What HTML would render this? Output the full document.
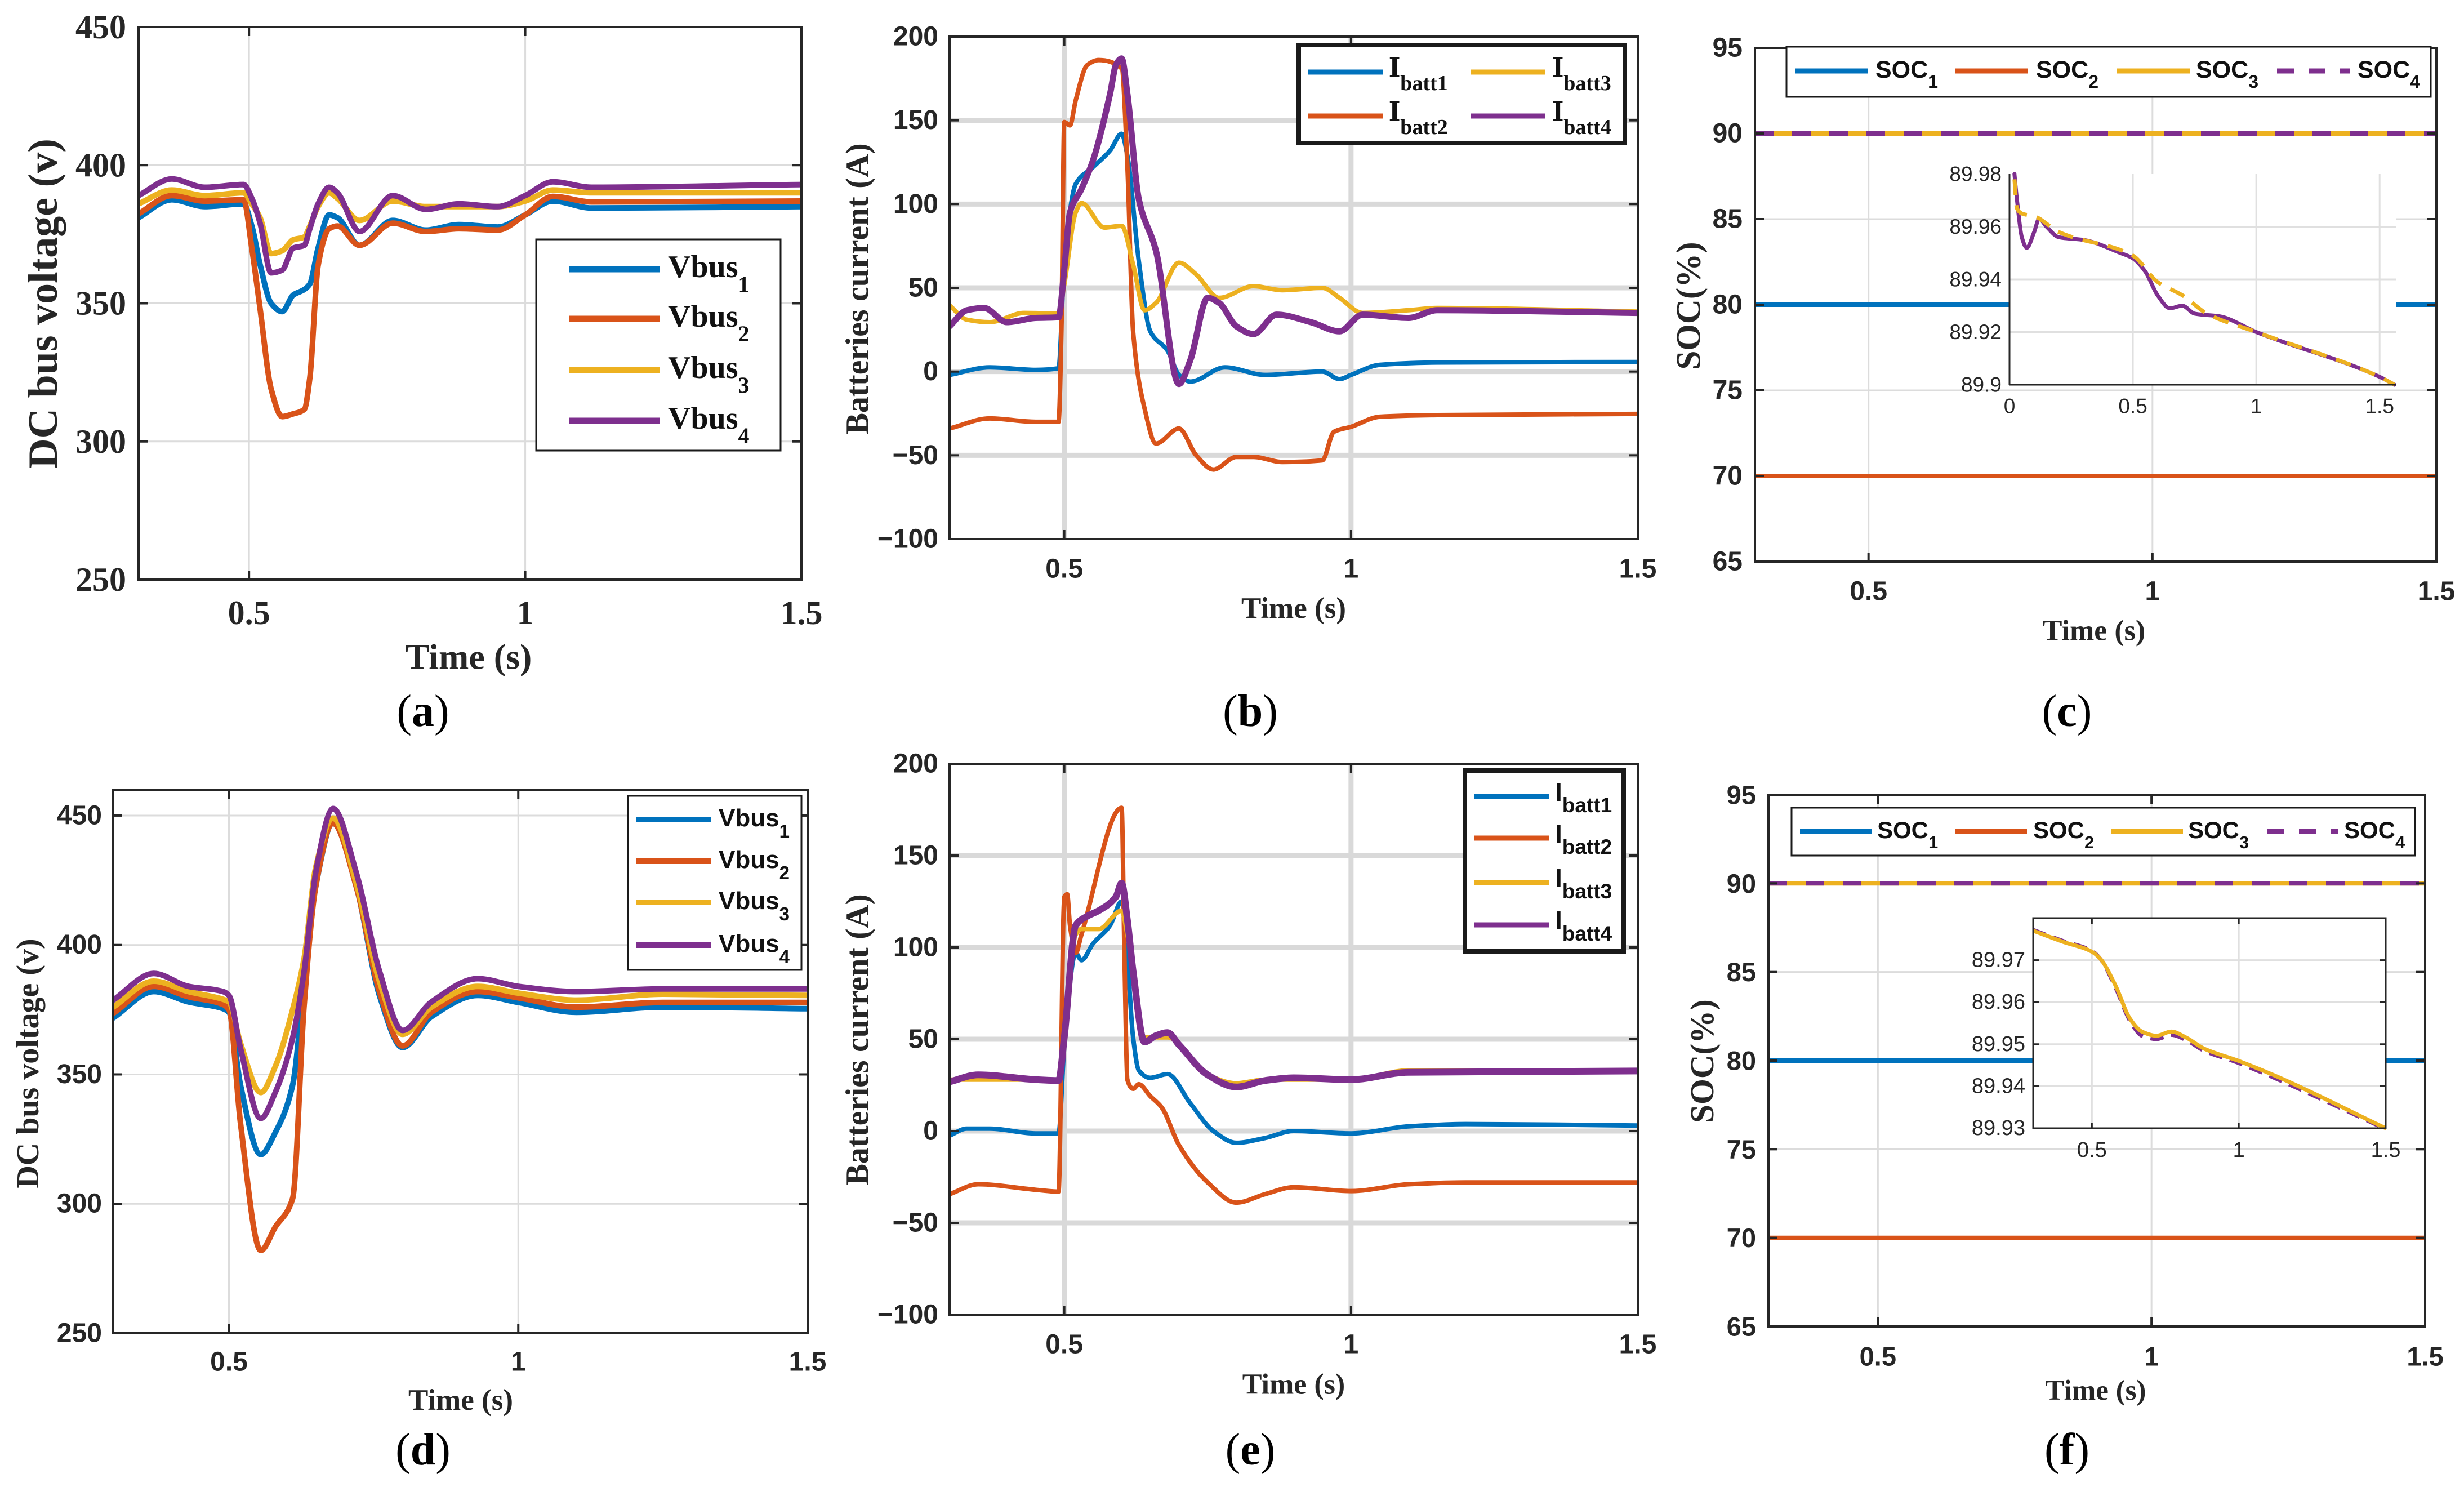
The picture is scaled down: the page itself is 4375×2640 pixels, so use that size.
<!DOCTYPE html>
<html><head><meta charset="utf-8"><title>DC microgrid simulation results</title>
<style>
html,body{margin:0;padding:0;background:#fff;}
svg{display:block;}
</style></head>
<body>
<svg id="fig" xmlns="http://www.w3.org/2000/svg" width="4375" height="2640" viewBox="0 0 4375 2640"></svg>
<script>
// ---------- Panel (a) data ----------
const aTime = [0.3,0.36,0.42,0.49,0.505,0.52,0.54,0.56,0.58,0.6,0.61,0.625,0.645,0.66,0.7,0.76,0.82,0.88,0.95,1.0,1.05,1.12,1.5];
const aVbus1 = [381,387.5,385,386,378,364,350,347,353,355,357,370,382,381,371,380,376.5,378.5,377.6,382,387,384.5,385];
const aVbus2 = [382.4,389,387,387.5,370,348,319,309,310,311.6,323,363.7,377,378,371,379,376,377,376.5,382,388.7,386.7,387];
const aVbus3 = [386,391,389,390,386,381,368,369,373,374,378,385,390,388,380,387,385,385,385,387,391,390,390];
const aVbus4 = [389,395,392,393,388,379,361,362,370,371,377,386,392,390,376,389,384,386,385,389,394,392,393];
const aXTicks = [0.5,1,1.5];
const aYTicks = [250,300,350,400,450];

// ---------- Panel (b) data ----------
const bT1 = [0.3,0.37,0.45,0.49,0.5,0.52,0.55,0.58,0.6,0.61,0.63,0.65,0.68,0.7,0.72,0.78,0.85,0.95,0.98,1.0,1.05,1.15,1.5];
const bI1 = [-2,2.5,1,2,64,112,122,132,142,129,66,24,12.5,-2,-6,2.5,-2,0,-4.5,-2,4,5.4,5.7];
const bT2 = [0.3,0.37,0.45,0.49,0.495,0.5,0.51,0.52,0.54,0.56,0.6,0.61,0.62,0.64,0.66,0.7,0.73,0.76,0.8,0.83,0.88,0.95,0.97,1.0,1.05,1.15,1.5];
const bI2 = [-34,-28,-30,-30,24,149,147,162,183,186,181,123,24,-22,-43,-34,-50,-58.5,-51,-51,-54,-53,-36,-33,-27,-26,-25.3];
const bT3 = [0.3,0.33,0.37,0.43,0.49,0.5,0.52,0.53,0.57,0.6,0.62,0.64,0.66,0.7,0.73,0.77,0.83,0.88,0.95,0.98,1.02,1.1,1.15,1.5];
const bI3 = [39.5,31,29.5,35,34.7,52,95,100.6,86,87,64,36.6,41,65,58,44,51,48.6,50,44,35,36.6,38,35.8];
const bT4 = [0.3,0.33,0.36,0.4,0.45,0.49,0.5,0.51,0.53,0.55,0.58,0.59,0.6,0.61,0.63,0.66,0.7,0.72,0.75,0.77,0.8,0.83,0.87,0.93,0.98,1.02,1.1,1.15,1.5];
const bI4 = [27,36.6,38,29.5,32,32.4,61,95,109,126,166,183,187,166,103,72,-7.4,7,44,41,27,22.4,34,29.5,24,34,32,36.6,35];
const bXTicks = [0.5,1,1.5];
const bYTicks = [-100,-50,0,50,100,150,200];

// ---------- Panel (c) data ----------
const cTime = [0.3,1.5];
const cSoc1 = [80,80];
const cSoc2 = [70,70];
const cSoc3 = [90,90];
const cSoc4 = [90,90];
const cXTicks = [0.5,1,1.5];
const cYTicks = [65,70,75,80,85,90,95];
const cInT4 = [0.02,0.03,0.05,0.07,0.1,0.12,0.15,0.2,0.3,0.45,0.5,0.55,0.6,0.65,0.7,0.75,0.85,1.0,1.5,1.56];
const cInS4 = [89.98,89.9705,89.956,89.952,89.958,89.963,89.96,89.956,89.955,89.950,89.948,89.943,89.934,89.929,89.930,89.927,89.926,89.920,89.903,89.9];
const cInT3 = [0.02,0.03,0.05,0.1,0.2,0.5,0.6,0.7,0.8,1.0,1.5,1.56];
const cInS3 = [89.978,89.967,89.965,89.964,89.958,89.949,89.939,89.934,89.927,89.920,89.903,89.9];
const cInXTicks = [0,0.5,1,1.5];
const cInYTicks = [89.9,89.92,89.94,89.96,89.98];

// ---------- Panel (d) data ----------
const dTime = [0.3,0.37,0.43,0.49,0.5,0.52,0.555,0.58,0.61,0.63,0.65,0.68,0.72,0.76,0.8,0.85,0.93,1.0,1.1,1.25,1.5];
const dVbus1 = [371.8,382,378,375.4,374,345.8,319,327.5,345.8,386,422.6,447,422.6,380.5,360.4,372.3,380.5,377.8,374,376,375.4];
const dVbus2 = [373.6,384,380,377,375,331,282,291,302,377,422.6,447,422.6,382,361,374,382,379.6,376,377.8,377.8];
const dVbus3 = [376,386,382,379,378,362,343,353,375,395,430,449,424,386,365.5,376,384,381.4,378.7,381,380.5];
const dVbus4 = [378.7,389,384,382,380.5,360,333,343,364,390,428,452.7,428,390,367,378,387,384,382,383,383];
const dXTicks = [0.5,1,1.5];
const dYTicks = [250,300,350,400,450];

// ---------- Panel (e) data ----------
const eT1 = [0.3,0.33,0.37,0.45,0.49,0.5,0.52,0.53,0.55,0.58,0.6,0.61,0.62,0.63,0.65,0.68,0.72,0.76,0.8,0.85,0.9,1.0,1.1,1.2,1.5];
const eI1 = [-2.5,1.3,1.3,-1.3,-1.3,46,97,93,102,112,125,94,51,33,29,31,15,0,-6.4,-3.8,0,-1.3,2.5,3.8,3];
const eT2 = [0.3,0.35,0.45,0.49,0.5,0.505,0.51,0.52,0.53,0.6,0.605,0.61,0.62,0.63,0.65,0.67,0.7,0.75,0.8,0.85,0.9,1.0,1.1,1.2,1.5];
const eI2 = [-34.4,-29,-32,-33,127.5,129,112,97,107,176,94,28,23,25.5,19,12.8,-7.7,-28,-39,-34.4,-30.6,-32.7,-29,-28,-28];
const eT3 = [0.3,0.49,0.5,0.52,0.53,0.56,0.6,0.61,0.64,0.68,0.75,0.8,0.85,1.0,1.1,1.5];
const eI3 = [28,28,51,107,110,110,120,107,51,51,30.6,26,28,28,33,33];
const eT4 = [0.3,0.35,0.45,0.49,0.5,0.52,0.54,0.56,0.59,0.6,0.61,0.62,0.64,0.66,0.68,0.7,0.75,0.8,0.85,0.9,1.0,1.1,1.5];
const eI4 = [26.8,30.6,28,27.5,51,112,117,120,127.5,135,115,87,48.5,52,53.6,47,30.6,24,27.5,29,28,32,32.7];
const eXTicks = [0.5,1,1.5];
const eYTicks = [-100,-50,0,50,100,150,200];

// ---------- Panel (f) data ----------
const fTime = [0.3,1.5];
const fSoc1 = [80,80];
const fSoc2 = [70,70];
const fSoc3 = [90,90];
const fSoc4 = [90,90];
const fXTicks = [0.5,1,1.5];
const fYTicks = [65,70,75,80,85,90,95];
const fInT3 = [0.3,0.4,0.5,0.53,0.58,0.63,0.67,0.72,0.77,0.82,0.88,1.0,1.12,1.5];
const fInS3 = [89.977,89.9744,89.972,89.9702,89.964,89.956,89.953,89.952,89.953,89.9516,89.949,89.946,89.9426,89.930];
const fInT4 = [0.3,0.4,0.5,0.53,0.58,0.63,0.67,0.72,0.77,0.82,0.88,1.0,1.12,1.5];
const fInS4 = [89.9772,89.9746,89.9722,89.9702,89.9635,89.9555,89.952,89.9512,89.9522,89.951,89.9485,89.9455,89.942,89.9298];
const fInXTicks = [0.5,1,1.5];
const fInYTicks = [89.93,89.94,89.95,89.96,89.97];

// ---------- rendering ----------
const NS = 'http://www.w3.org/2000/svg';
const svg = document.getElementById('fig');
const BLUE='#0072BD', ORANGE='#D95319', YELLOW='#EDB120', PURPLE='#7E2F8E', INK='#262626';
const SERIF='"Liberation Serif", serif', SANS='"Liberation Sans", sans-serif';

function mk(tag, attrs, parent){
  const e=document.createElementNS(NS,tag);
  for(const k in attrs) e.setAttribute(k,attrs[k]);
  (parent||svg).appendChild(e);
  return e;
}
function fmt(v){ const s=String(v); return v<0 ? '\u2212'+s.slice(1) : s; }
function scaleX(ax,t){ return ax.x0+(t-ax.xmin)/(ax.xmax-ax.xmin)*(ax.x1-ax.x0); }
function scaleY(ax,v){ return ax.y1-(v-ax.ymin)/(ax.ymax-ax.ymin)*(ax.y1-ax.y0); }

// monotone cubic (Fritsch-Carlson) path through pixel points
function monoPath(xs,ys){
  const n=xs.length;
  if(n<3){ let d=''; for(let i=0;i<n;i++) d+=(i?'L':'M')+xs[i].toFixed(1)+','+ys[i].toFixed(1); return d; }
  const dx=[],s=[];
  for(let i=0;i<n-1;i++){ dx.push(xs[i+1]-xs[i]); s.push((ys[i+1]-ys[i])/dx[i]); }
  const m=new Array(n);
  m[0]=s[0]; m[n-1]=s[n-2];
  for(let i=1;i<n-1;i++){
    if(s[i-1]*s[i]<=0) m[i]=0;
    else { const w1=2*dx[i]+dx[i-1], w2=dx[i]+2*dx[i-1]; m[i]=(w1+w2)/(w1/s[i-1]+w2/s[i]); }
  }
  let d='M'+xs[0].toFixed(1)+','+ys[0].toFixed(1);
  for(let i=0;i<n-1;i++){
    const h=dx[i]/3;
    d+='C'+(xs[i]+h).toFixed(1)+','+(ys[i]+m[i]*h).toFixed(1)+' '+(xs[i+1]-h).toFixed(1)+','+(ys[i+1]-m[i+1]*h).toFixed(1)+' '+xs[i+1].toFixed(1)+','+ys[i+1].toFixed(1);
  }
  return d;
}

let clipId=0;
function makeAxes(ax){
  const g=mk('g',{});
  
  
  if(ax.bg){
    const bg=mk('rect',{x:ax.x0,y:ax.y0,width:ax.x1-ax.x0,height:ax.y1-ax.y0,fill:'#fff'},g);
    
    
  }
  const grid=mk('g',{stroke:ax.gridColor,'stroke-width':ax.gridW},g);
  
  
  ax.xticks.forEach(t=>{ const x=scaleX(ax,t); if(x>ax.x0+2&&x<ax.x1-2) mk('line',{x1:x,x2:x,y1:ax.y0,y2:ax.y1},grid); });
  ax.yticks.forEach(v=>{ const y=scaleY(ax,v); if(y>ax.y0+2&&y<ax.y1-2) mk('line',{x1:ax.x0,x2:ax.x1,y1:y,y2:y},grid); });
  const id='clip'+(clipId++);
  const cp=mk('clipPath',{id:id},g);
  mk('rect',{x:ax.x0,y:ax.y0-6,width:ax.x1-ax.x0,height:ax.y1-ax.y0+12},cp);
  ax.plot=mk('g',{'clip-path':'url(#'+id+')'},g);
  ax.g=g;
  return ax;
}
function finishAxes(ax){
  const g=ax.g;
  const frame=mk('g',{stroke:INK,'stroke-width':ax.axisW,fill:'none'},g);
  
  
  if(ax.fullBox) mk('rect',{x:ax.x0,y:ax.y0,width:ax.x1-ax.x0,height:ax.y1-ax.y0},frame);
  else { mk('line',{x1:ax.x0,x2:ax.x0,y1:ax.y0,y2:ax.y1},frame); mk('line',{x1:ax.x0,x2:ax.x1,y1:ax.y1,y2:ax.y1},frame); }
  const tl=ax.tickLen;
  if(tl>0){
    ax.xticks.forEach(t=>{ const x=scaleX(ax,t); mk('line',{x1:x,x2:x,y1:ax.y1,y2:ax.y1-tl},frame); if(ax.fullBox) mk('line',{x1:x,x2:x,y1:ax.y0,y2:ax.y0+tl},frame); });
    ax.yticks.forEach(v=>{ const y=scaleY(ax,v); mk('line',{x1:ax.x0,x2:ax.x0+tl,y1:y,y2:y},frame); if(ax.fullBox) mk('line',{x1:ax.x1,x2:ax.x1-tl,y1:y,y2:y},frame); });
  }
  const xl=mk('g',{fill:INK,'font-family':ax.tickFam,'font-size':ax.tickSize,'font-weight':ax.tickWeight,'text-anchor':'middle'},g);
  
  
  ax.xticks.forEach(t=>{ const e=mk('text',{x:scaleX(ax,t),y:ax.xLabY,'dominant-baseline':'central'},xl); e.textContent=fmt(t); });
  const yl=mk('g',{fill:INK,'font-family':ax.tickFam,'font-size':ax.tickSize,'font-weight':ax.tickWeight,'text-anchor':'end'},g);
  
  
  ax.yticks.forEach(v=>{ const e=mk('text',{x:ax.x0-ax.yLabGap,y:scaleY(ax,v),'dominant-baseline':'central'},yl); e.textContent=fmt(v); });
}
function series(ax,ts,vs,color,w,name,dash){
  const xs=ts.map(t=>scaleX(ax,t)), ys=vs.map(v=>scaleY(ax,v));
  const p=mk('path',{d:monoPath(xs,ys),fill:'none',stroke:color,'stroke-width':w,'stroke-linejoin':'round','stroke-linecap':dash?'butt':'round'},ax.plot);
  if(dash) p.setAttribute('stroke-dasharray',dash);
  
  
  return p;
}
function textLabel(x,y,str,size,fam,weight,rot,name){
  const t=mk('text',{x:x,y:y,fill:INK,'font-family':fam,'font-size':size,'font-weight':weight,'text-anchor':'middle','dominant-baseline':'central'});
  if(rot) t.setAttribute('transform','rotate(-90 '+x+' '+y+')');
  t.textContent=str;
  
  
  return t;
}
function subLabel(x,y,letter,name){
  const t=mk('text',{x:x,y:y,fill:'#000','font-family':SERIF,'font-size':80,'text-anchor':'middle','dominant-baseline':'central'});
  t.appendChild(document.createTextNode('('));
  const b=mk('tspan',{'font-weight':'bold'},t);
  b.textContent=letter;
  t.appendChild(document.createTextNode(')'));
  
  
}
function legend(name,box,bw,entries,fam,size,subSize,subDy,lineW){
  const g=mk('g',{});
  
  
  mk('rect',{x:box[0],y:box[1],width:box[2]-box[0],height:box[3]-box[1],fill:'#fff',stroke:'#1a1a1a','stroke-width':bw},g);
  entries.forEach(en=>{
    const eg=mk('g',{},g);
    
    
    const ln=mk('line',{x1:en.lx1,x2:en.lx2,y1:en.y,y2:en.y,stroke:en.color,'stroke-width':lineW},eg);
    if(en.dash) ln.setAttribute('stroke-dasharray',en.dash);
    const t=mk('text',{x:en.tx,y:en.y+en.by,fill:'#111','font-family':fam,'font-size':size,'font-weight':'bold'},eg);
    t.appendChild(document.createTextNode(en.main));
    const s=mk('tspan',{'font-size':subSize,dy:subDy},t);
    s.textContent=en.sub;
  });
}

// ===== Panel (a) =====
const axA=makeAxes({name:'panel-a-axes',x0:246,x1:1423,y0:48,y1:1029,xmin:0.3,xmax:1.5,ymin:250,ymax:450,xticks:aXTicks,yticks:aYTicks,gridColor:'#dcdcdc',gridW:3,axisW:4,tickLen:16,fullBox:true,tickFam:SERIF,tickSize:60,tickWeight:'bold',xLabY:1088,yLabGap:22});
series(axA,aTime,aVbus1,BLUE,10,'vbus1-line-a');
series(axA,aTime,aVbus2,ORANGE,10,'vbus2-line-a');
series(axA,aTime,aVbus3,YELLOW,10,'vbus3-line-a');
series(axA,aTime,aVbus4,PURPLE,10,'vbus4-line-a');
finishAxes(axA);
legend('legend-a',[952,425,1386,800],3,[
 {main:'Vbus',sub:'1',color:BLUE,lx1:1010,lx2:1172,y:478,tx:1186,by:14},
 {main:'Vbus',sub:'2',color:ORANGE,lx1:1010,lx2:1172,y:566,tx:1186,by:14},
 {main:'Vbus',sub:'3',color:YELLOW,lx1:1010,lx2:1172,y:657,tx:1186,by:14},
 {main:'Vbus',sub:'4',color:PURPLE,lx1:1010,lx2:1172,y:747,tx:1186,by:14}],SERIF,56,40,26,11);
textLabel(77,539,'DC bus voltage (v)',74,SERIF,'bold',true,'y-axis-title-a');
textLabel(832,1166,'Time (s)',64,SERIF,'bold',false,'x-axis-title-a');
subLabel(751,1263,'a','subplot-label-a');

// ===== Panel (b) =====
const axB=makeAxes({name:'panel-b-axes',x0:1686,x1:2908,y0:65,y1:957,xmin:0.3,xmax:1.5,ymin:-100,ymax:200,xticks:bXTicks,yticks:bYTicks,gridColor:'#d9d9d9',gridW:9,axisW:4,tickLen:16,fullBox:true,tickFam:SANS,tickSize:48,tickWeight:'bold',xLabY:1010,yLabGap:20});
series(axB,bT1,bI1,BLUE,8,'ibatt1-line-b');
series(axB,bT2,bI2,ORANGE,8,'ibatt2-line-b');
series(axB,bT3,bI3,YELLOW,8,'ibatt3-line-b');
series(axB,bT4,bI4,PURPLE,11,'ibatt4-line-b');
finishAxes(axB);
legend('legend-b',[2306,80,2885,254],8,[
 {main:'I',sub:'batt1',color:BLUE,lx1:2323,lx2:2455,y:128,tx:2466,by:8},
 {main:'I',sub:'batt2',color:ORANGE,lx1:2323,lx2:2455,y:206,tx:2466,by:8},
 {main:'I',sub:'batt3',color:YELLOW,lx1:2611,lx2:2744,y:128,tx:2756,by:8},
 {main:'I',sub:'batt4',color:PURPLE,lx1:2611,lx2:2744,y:206,tx:2756,by:8}],SERIF,52,38,24,9);
textLabel(1522,513,'Batteries current (A)',58,SERIF,'bold',true,'y-axis-title-b');
textLabel(2297,1080,'Time (s)',53,SERIF,'bold',false,'x-axis-title-b');
subLabel(2220,1263,'b','subplot-label-b');

// ===== Panel (c) =====
const axC=makeAxes({name:'panel-c-axes',x0:3116,x1:4326,y0:85,y1:997,xmin:0.3,xmax:1.5,ymin:65,ymax:95,xticks:cXTicks,yticks:cYTicks,gridColor:'#dcdcdc',gridW:3,axisW:4,tickLen:16,fullBox:true,tickFam:SANS,tickSize:48,tickWeight:'bold',xLabY:1050,yLabGap:22});
series(axC,cTime,cSoc1,BLUE,8,'soc1-line-c');
series(axC,cTime,cSoc2,ORANGE,8,'soc2-line-c');
series(axC,cTime,cSoc3,YELLOW,8,'soc3-line-c');
series(axC,cTime,cSoc4,PURPLE,8,'soc4-line-c','33 33');
finishAxes(axC);
const inC=makeAxes({name:'inset-c-axes',bg:true,x0:3568,x1:4255,y0:309,y1:683,xmin:0,xmax:1.568,ymin:89.9,ymax:89.98,xticks:cInXTicks,yticks:cInYTicks,gridColor:'#e0e0e0',gridW:3,axisW:3,tickLen:0,fullBox:false,tickFam:SANS,tickSize:37,tickWeight:'normal',xLabY:721,yLabGap:14});
series(inC,cInT4,cInS4,PURPLE,7,'soc4-inset-line-c');
series(inC,cInT3,cInS3,YELLOW,7,'soc3-inset-line-c','28 18');
finishAxes(inC);
legend('legend-c',[3172,83,4316,172],3,[
 {main:'SOC',sub:'1',color:BLUE,lx1:3187,lx2:3316,y:126,tx:3330,by:12},
 {main:'SOC',sub:'2',color:ORANGE,lx1:3471,lx2:3601,y:126,tx:3615,by:12},
 {main:'SOC',sub:'3',color:YELLOW,lx1:3758,lx2:3888,y:126,tx:3899,by:12},
 {main:'SOC',sub:'4',color:PURPLE,lx1:4043,lx2:4172,y:126,tx:4186,by:12,dash:'30 26'}],SANS,43,32,18,9);
textLabel(2999,543,'SOC(%)',61,SERIF,'bold',true,'y-axis-title-c');
textLabel(3718,1120,'Time (s)',52,SERIF,'bold',false,'x-axis-title-c');
subLabel(3670,1263,'c','subplot-label-c');

// ===== Panel (d) =====
const axD=makeAxes({name:'panel-d-axes',x0:201,x1:1434,y0:1402,y1:2367,xmin:0.3,xmax:1.5,ymin:250,ymax:460,xticks:dXTicks,yticks:dYTicks,gridColor:'#dcdcdc',gridW:3,axisW:4,tickLen:16,fullBox:true,tickFam:SANS,tickSize:48,tickWeight:'bold',xLabY:2418,yLabGap:20});
series(axD,dTime,dVbus1,BLUE,10,'vbus1-line-d');
series(axD,dTime,dVbus2,ORANGE,10,'vbus2-line-d');
series(axD,dTime,dVbus3,YELLOW,10,'vbus3-line-d');
series(axD,dTime,dVbus4,PURPLE,10,'vbus4-line-d');
finishAxes(axD);
legend('legend-d',[1115,1413,1423,1722],3,[
 {main:'Vbus',sub:'1',color:BLUE,lx1:1129,lx2:1263,y:1455,tx:1276,by:12},
 {main:'Vbus',sub:'2',color:ORANGE,lx1:1129,lx2:1263,y:1529,tx:1276,by:12},
 {main:'Vbus',sub:'3',color:YELLOW,lx1:1129,lx2:1263,y:1602,tx:1276,by:12},
 {main:'Vbus',sub:'4',color:PURPLE,lx1:1129,lx2:1263,y:1678,tx:1276,by:12}],SANS,44,33,20,10);
textLabel(50,1888,'DC bus voltage (v)',56,SERIF,'bold',true,'y-axis-title-d');
textLabel(818,2486,'Time (s)',53,SERIF,'bold',false,'x-axis-title-d');
subLabel(751,2574,'d','subplot-label-d');

// ===== Panel (e) =====
const axE=makeAxes({name:'panel-e-axes',x0:1686,x1:2908,y0:1356,y1:2334,xmin:0.3,xmax:1.5,ymin:-100,ymax:200,xticks:eXTicks,yticks:eYTicks,gridColor:'#d9d9d9',gridW:9,axisW:4,tickLen:16,fullBox:true,tickFam:SANS,tickSize:48,tickWeight:'bold',xLabY:2387,yLabGap:20});
series(axE,eT1,eI1,BLUE,8,'ibatt1-line-e');
series(axE,eT2,eI2,ORANGE,8,'ibatt2-line-e');
series(axE,eT3,eI3,YELLOW,8,'ibatt3-line-e');
series(axE,eT4,eI4,PURPLE,12,'ibatt4-line-e');
finishAxes(axE);
legend('legend-e',[2601,1368,2883,1689],8,[
 {main:'I',sub:'batt1',color:BLUE,lx1:2617,lx2:2750,y:1414,tx:2761,by:8},
 {main:'I',sub:'batt2',color:ORANGE,lx1:2617,lx2:2750,y:1488,tx:2761,by:8},
 {main:'I',sub:'batt3',color:YELLOW,lx1:2617,lx2:2750,y:1567,tx:2761,by:8},
 {main:'I',sub:'batt4',color:PURPLE,lx1:2617,lx2:2750,y:1642,tx:2761,by:8}],SANS,46,37,20,9);
textLabel(1522,1846,'Batteries current (A)',58,SERIF,'bold',true,'y-axis-title-e');
textLabel(2297,2458,'Time (s)',52,SERIF,'bold',false,'x-axis-title-e');
subLabel(2220,2574,'e','subplot-label-e');

// ===== Panel (f) =====
const axF=makeAxes({name:'panel-f-axes',x0:3140,x1:4306,y0:1411,y1:2355,xmin:0.3,xmax:1.5,ymin:65,ymax:95,xticks:fXTicks,yticks:fYTicks,gridColor:'#dcdcdc',gridW:3,axisW:4,tickLen:16,fullBox:true,tickFam:SANS,tickSize:47,tickWeight:'bold',xLabY:2408,yLabGap:22});
series(axF,fTime,fSoc1,BLUE,8,'soc1-line-f');
series(axF,fTime,fSoc2,ORANGE,8,'soc2-line-f');
series(axF,fTime,fSoc3,YELLOW,8,'soc3-line-f');
series(axF,fTime,fSoc4,PURPLE,8,'soc4-line-f','33 33');
finishAxes(axF);
const inF=makeAxes({name:'inset-f-axes',bg:true,x0:3610,x1:4236,y0:1630,y1:2003,xmin:0.3,xmax:1.5,ymin:89.93,ymax:89.98,xticks:fInXTicks,yticks:fInYTicks,gridColor:'#e0e0e0',gridW:3,axisW:3,tickLen:10,fullBox:true,tickFam:SANS,tickSize:38,tickWeight:'normal',xLabY:2042,yLabGap:14});
series(inF,fInT4,fInS4,PURPLE,7,'soc4-inset-line-f','24 14');
series(inF,fInT3,fInS3,YELLOW,7,'soc3-inset-line-f');
finishAxes(inF);
legend('legend-f',[3181,1434,4288,1519],3,[
 {main:'SOC',sub:'1',color:BLUE,lx1:3196,lx2:3323,y:1476,tx:3333,by:12},
 {main:'SOC',sub:'2',color:ORANGE,lx1:3472,lx2:3599,y:1476,tx:3610,by:12},
 {main:'SOC',sub:'3',color:YELLOW,lx1:3748,lx2:3876,y:1476,tx:3885,by:12},
 {main:'SOC',sub:'4',color:PURPLE,lx1:4026,lx2:4151,y:1476,tx:4162,by:12,dash:'30 26'}],SANS,42,31,18,9);
textLabel(3022,1884,'SOC(%)',59,SERIF,'bold',true,'y-axis-title-f');
textLabel(3721,2469,'Time (s)',51,SERIF,'bold',false,'x-axis-title-f');
subLabel(3670,2574,'f','subplot-label-f');
</script>
</body></html>
